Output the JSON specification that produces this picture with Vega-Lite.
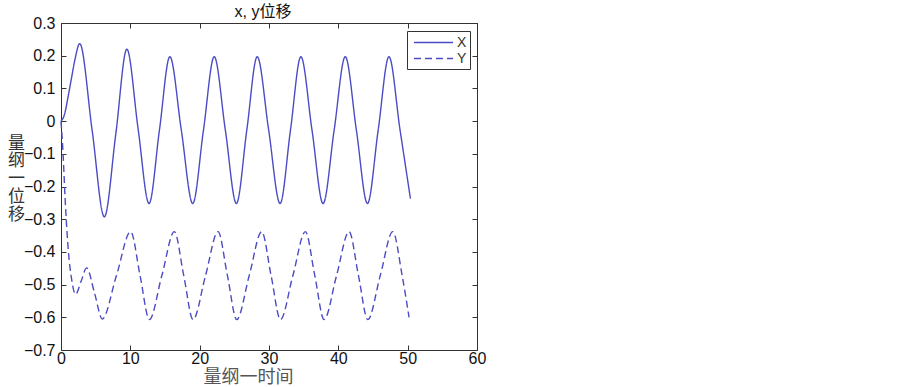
{
  "$schema": "https://vega.github.io/schema/vega-lite/v6.json",
  "autosize": {"type": "none"},
  "padding": {"left": 61, "top": 23, "right": 426, "bottom": 37},
  "width": 416,
  "height": 327,
  "background": "white",
  "title": {"text": "x, y位移", "font": "Liberation Sans, Noto Sans CJK SC", "fontSize": 16, "fontWeight": "normal", "color": "#111", "offset": -4, "dx": -6, "dy": 17, "baseline": "bottom"},
  "config": {
    "view": {"stroke": "#333", "strokeWidth": 1},
    "axis": {"grid": false, "domain": false, "tickColor": "#333", "labelFont": "Liberation Sans", "labelFontSize": 16, "labelColor": "#111", "labelFlush": false, "labelOverlap": false}
  },
  "data": {"values": [
    {"t": 0, "v": 0, "s": "X"}, {"t": 0.5, "v": 0.02, "s": "X"}, {"t": 1.0, "v": 0.072, "s": "X"}, {"t": 1.5, "v": 0.13, "s": "X"}, {"t": 2.0, "v": 0.187, "s": "X"}, {"t": 2.7, "v": 0.237, "s": "X"},
    {"t": 4.5, "v": -0.03, "s": "X"}, {"t": 6.25, "v": -0.293, "s": "X"}, {"t": 7.9, "v": -0.04, "s": "X"}, {"t": 9.5, "v": 0.22, "s": "X"},
    {"t": 11.1, "v": -0.02, "s": "X"}, {"t": 12.7, "v": -0.252, "s": "X"}, {"t": 14.2, "v": -0.027, "s": "X"}, {"t": 15.7, "v": 0.197, "s": "X"},
    {"t": 17.35, "v": -0.027, "s": "X"}, {"t": 19.0, "v": -0.252, "s": "X"}, {"t": 20.55, "v": -0.027, "s": "X"}, {"t": 22.1, "v": 0.197, "s": "X"},
    {"t": 23.7, "v": -0.027, "s": "X"}, {"t": 25.3, "v": -0.252, "s": "X"}, {"t": 26.8, "v": -0.027, "s": "X"}, {"t": 28.3, "v": 0.197, "s": "X"},
    {"t": 29.95, "v": -0.027, "s": "X"}, {"t": 31.6, "v": -0.252, "s": "X"}, {"t": 33.1, "v": -0.027, "s": "X"}, {"t": 34.6, "v": 0.197, "s": "X"},
    {"t": 36.2, "v": -0.027, "s": "X"}, {"t": 37.8, "v": -0.252, "s": "X"}, {"t": 39.4, "v": -0.027, "s": "X"}, {"t": 41.0, "v": 0.197, "s": "X"},
    {"t": 42.6, "v": -0.027, "s": "X"}, {"t": 44.2, "v": -0.252, "s": "X"}, {"t": 45.75, "v": -0.027, "s": "X"}, {"t": 47.3, "v": 0.197, "s": "X"},
    {"t": 48.9, "v": -0.027, "s": "X"}, {"t": 50.4, "v": -0.237, "s": "X"},
    {"t": 0, "v": 0, "s": "Y"}, {"t": 0.3, "v": -0.1, "s": "Y"}, {"t": 0.6, "v": -0.24, "s": "Y"}, {"t": 1.05, "v": -0.394, "s": "Y"}, {"t": 1.55, "v": -0.486, "s": "Y"}, {"t": 2.1, "v": -0.53, "s": "Y"},
    {"t": 2.9, "v": -0.49, "s": "Y"}, {"t": 3.7, "v": -0.449, "s": "Y"}, {"t": 4.85, "v": -0.527, "s": "Y"}, {"t": 5.95, "v": -0.605, "s": "Y"},
    {"t": 8.0, "v": -0.472, "s": "Y"}, {"t": 10.05, "v": -0.338, "s": "Y"}, {"t": 11.4, "v": -0.472, "s": "Y"}, {"t": 12.75, "v": -0.607, "s": "Y"},
    {"t": 14.55, "v": -0.472, "s": "Y"}, {"t": 16.35, "v": -0.338, "s": "Y"}, {"t": 17.7, "v": -0.472, "s": "Y"}, {"t": 19.05, "v": -0.607, "s": "Y"},
    {"t": 20.85, "v": -0.472, "s": "Y"}, {"t": 22.65, "v": -0.338, "s": "Y"}, {"t": 24.0, "v": -0.472, "s": "Y"}, {"t": 25.35, "v": -0.607, "s": "Y"},
    {"t": 27.15, "v": -0.472, "s": "Y"}, {"t": 28.95, "v": -0.338, "s": "Y"}, {"t": 30.3, "v": -0.472, "s": "Y"}, {"t": 31.65, "v": -0.607, "s": "Y"},
    {"t": 33.45, "v": -0.472, "s": "Y"}, {"t": 35.25, "v": -0.338, "s": "Y"}, {"t": 36.6, "v": -0.472, "s": "Y"}, {"t": 37.95, "v": -0.607, "s": "Y"},
    {"t": 39.75, "v": -0.472, "s": "Y"}, {"t": 41.55, "v": -0.338, "s": "Y"}, {"t": 42.9, "v": -0.472, "s": "Y"}, {"t": 44.25, "v": -0.607, "s": "Y"},
    {"t": 46.05, "v": -0.472, "s": "Y"}, {"t": 47.85, "v": -0.338, "s": "Y"}, {"t": 49.2, "v": -0.472, "s": "Y"}, {"t": 50.2, "v": -0.6, "s": "Y"}
  ]},
  "resolve": {"axis": {"x": "independent", "y": "independent"}},
  "layer": [
    {
      "mark": {"type": "line", "interpolate": "monotone", "strokeWidth": 1.4, "color": "#4b4bc4"},
      "encoding": {
        "x": {"field": "t", "type": "quantitative", "scale": {"domain": [0, 60], "nice": false, "zero": false},
          "axis": {"orient": "bottom", "values": [0, 10, 20, 30, 40, 50, 60], "tickSize": -5, "labelPadding": 5,
            "title": "量纲一时间", "titleFont": "Noto Sans CJK SC", "titleFontSize": 18, "titleFontWeight": "normal", "titleColor": "#555", "titleX": 187, "titleY": 18, "titleBaseline": "top", "titleAnchor": "start", "titleAlign": "center"}},
        "y": {"field": "v", "type": "quantitative", "scale": {"domain": [-0.7, 0.3], "nice": false, "zero": false},
          "axis": {"orient": "left", "values": [-0.7, -0.6, -0.5, -0.4, -0.3, -0.2, -0.1, 0, 0.1, 0.2, 0.3], "format": ".1~f", "tickSize": -5, "labelPadding": 11,
            "title": ["量", "纲", "一", "位", "移"], "titleAngle": 0, "titleFont": "Noto Sans CJK SC", "titleFontSize": 17, "titleFontWeight": "normal", "titleColor": "#333", "titleLineHeight": 17.8, "titleX": -45, "titleY": 112, "titleBaseline": "top", "titleAlign": "center", "titleAnchor": "start"}},
        "strokeDash": {"field": "s", "type": "nominal", "scale": {"domain": ["X", "Y"], "range": [[1, 0], [7, 4]]},
          "legend": {"title": null, "orient": "none", "legendX": 346, "legendY": 8, "padding": 3, "strokeColor": "#333", "fillColor": "white", "symbolType": "M-0.6,0H4.6", "symbolSize": 225, "symbolStrokeWidth": 1.4, "symbolStrokeColor": "#4b4bc4", "symbolFillColor": "transparent", "labelFont": "Liberation Sans", "labelFontSize": 14, "labelColor": "#333", "labelOffset": 30, "rowPadding": 0}}
      }
    },
    {
      "mark": {"type": "line", "opacity": 0},
      "encoding": {
        "x": {"field": "t", "type": "quantitative", "axis": {"orient": "top", "values": [0, 10, 20, 30, 40, 50, 60], "tickSize": -5, "labels": false, "title": null}},
        "y": {"field": "v", "type": "quantitative", "axis": {"orient": "right", "values": [-0.7, -0.6, -0.5, -0.4, -0.3, -0.2, -0.1, 0, 0.1, 0.2, 0.3], "tickSize": -5, "labels": false, "title": null}}
      }
    }
  ]
}
